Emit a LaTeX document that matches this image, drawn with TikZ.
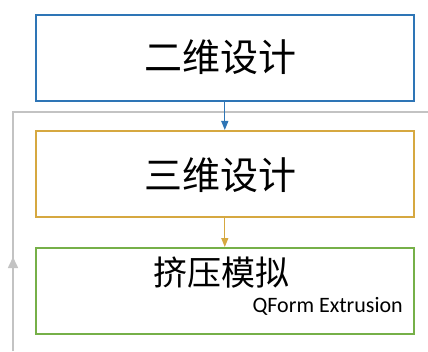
\documentclass[tikz,border=0pt]{standalone}
\usepackage{fontspec}
\newfontfamily\cjk{Noto Sans CJK SC}
\newfontfamily\carl{Carlito}
\usetikzlibrary{arrows.meta}
\definecolor{cblue}{RGB}{46,117,182}
\definecolor{cyel}{RGB}{214,168,64}
\definecolor{cgreen}{RGB}{118,176,72}
\definecolor{cgray}{RGB}{195,195,195}
\begin{document}
\begin{tikzpicture}[x=1pt,y=1pt,
  box/.style={draw,line width=1.6pt,minimum width=378pt,minimum height=86pt,inner sep=0pt,anchor=north west},
  arr/.style={line width=1.3pt,-{Triangle[length=9pt,width=7pt]}}]
\useasboundingbox (0,0) rectangle (428,351);
\node[box,draw=cblue] (b1) at (35,337) {};
\node[box,draw=cyel] (b2) at (35,221) {};
\node[box,draw=cgreen] (b3) at (35,104) {};
\node[font=\cjk\fontsize{38}{40}\selectfont] (t1) at (220,294) {二维设计};
\node[font=\cjk\fontsize{38}{40}\selectfont] (t2) at (220,176) {三维设计};
\node[font=\cjk\fontsize{34}{36}\selectfont] (t3) at (221,78) {挤压模拟};
\node[font=\carl\fontsize{22}{24}\selectfont,anchor=east,inner sep=0pt] (t4) at (403,45) {QForm Extrusion};
\coordinate (g0) at (13,0);
\coordinate (g1) at (13,239);
\coordinate (g2) at (428,239);
\draw[cgray,line width=1.6pt] (g0) -- (g1) -- (g2);
\draw[cgray,line width=1.6pt,-{Triangle[length=11pt,width=10pt]}] (g0) -- (13,94);
\draw[arr,cblue] (b1.south) -- (b2.north);
\draw[arr,cyel] (b2.south) -- (b3.north);
\end{tikzpicture}
\end{document}
